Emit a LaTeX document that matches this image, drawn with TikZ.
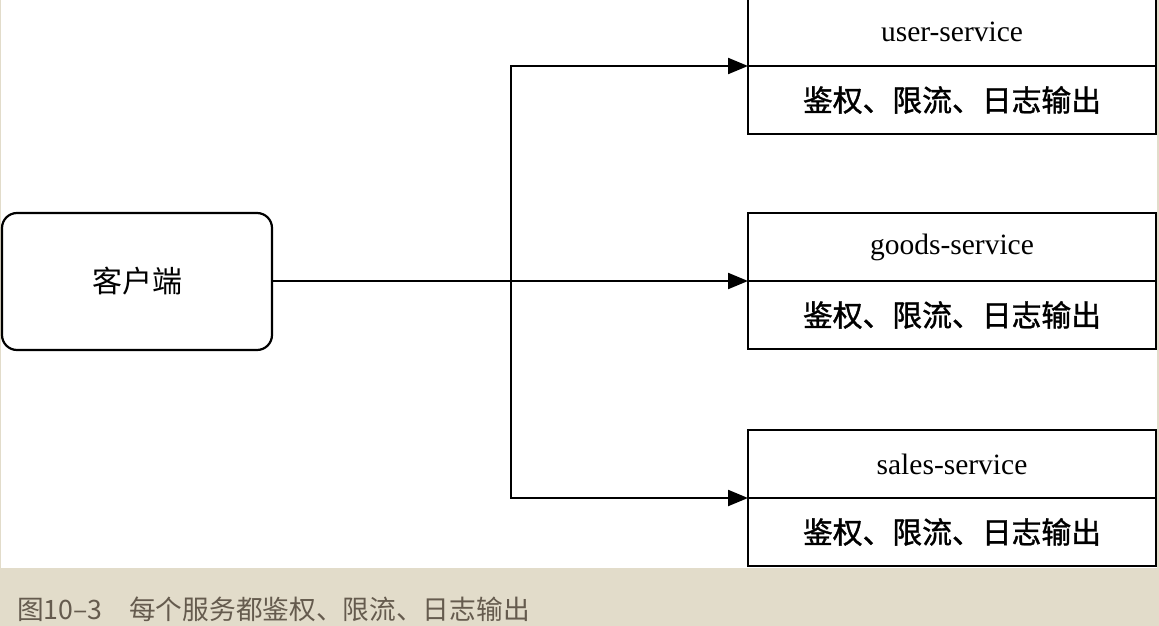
\documentclass[tikz,border=0pt]{standalone}
\usepackage{fontspec}
\setmainfont{Liberation Serif}
\newfontfamily\cjk{Noto Sans CJK SC}
\newfontfamily\cjkfb[FakeBold=1.2]{Noto Sans CJK SC}
\usetikzlibrary{arrows.meta}
\definecolor{beige}{HTML}{E2DCCA}
\definecolor{captxt}{HTML}{655B4E}
\begin{document}
\begin{tikzpicture}[x=1pt,y=-1pt,
  line width=2.2pt,
  boxpart/.style={draw=black,line width=2.2pt,fill=white,rectangle,minimum width=408pt,minimum height=68pt,inner sep=0pt,outer sep=0pt,anchor=north west},
  nametxt/.style={font=\fontsize{29.5}{30}\selectfont},
  functxt/.style={font=\cjkfb\fontsize{29.8}{30}\selectfont},
  arr/.style={-{Triangle[length=20pt,width=16pt]},line width=2.2pt}]
\useasboundingbox (0,0) rectangle (1159,626);
\fill[beige] (0,0) rectangle (1159,626);
\fill[white] (1,0) rectangle (1157,568);
% client
\node[draw,line width=2.2pt,rounded corners=15pt,minimum width=270pt,minimum height=137pt,inner sep=0pt,outer sep=0pt,font=\cjk\fontsize{30}{30}\selectfont] (client) at (137,281.5) {客户端};
% services
\node[boxpart,nametxt] (utop) at (748,-2) {user-service};
\node[boxpart,functxt] (ubot) at (utop.south west) {鉴权、限流、日志输出};
\node[boxpart,nametxt] (gtop) at (748,213) {goods-service};
\node[boxpart,functxt] (gbot) at (gtop.south west) {鉴权、限流、日志输出};
\node[boxpart,nametxt] (stop) at (748,430) {sales-service};
\node[boxpart,functxt] (sbot) at (stop.south west) {鉴权、限流、日志输出};
% connectors
\coordinate (br) at (511,281);
\draw[arr] (client.east |- gtop.south west) -- (gtop.south west);
\draw[arr] (br) |- (utop.south west);
\draw[arr] (br) |- (stop.south west);
% caption
\node[anchor=west,inner sep=0pt,text=captxt,font=\cjk\fontsize{26.7}{28}\selectfont] (cap) at (16,609) {图10–3　每个服务都鉴权、限流、日志输出};
\end{tikzpicture}
\end{document}
